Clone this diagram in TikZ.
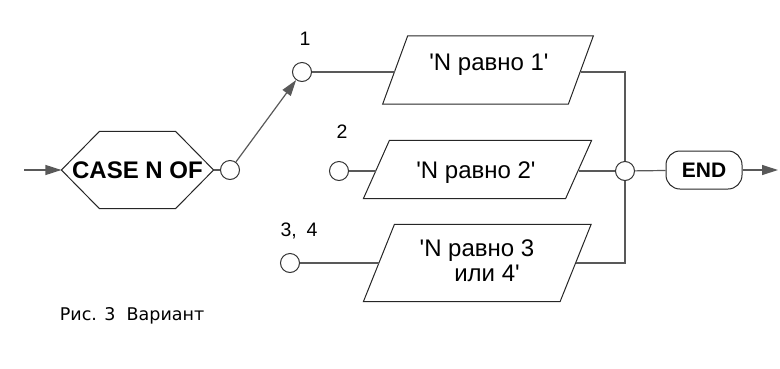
\documentclass[tikz,border=0pt]{standalone}
\usepackage{fontspec}
\setmainfont{Liberation Sans}[Ligatures=TeXOff]
\newfontfamily\captionfont{DejaVu Sans}
\usetikzlibrary{arrows.meta,positioning,calc}

\begin{document}
\begin{tikzpicture}[
  x=1pt, y=-1pt,
  line width=1.2pt,
  >={Triangle[length=16pt,width=10pt]},
  flow/.style={draw=black!65},
  joint/.style={circle, draw=black!80, fill=white, line width=1pt,
    minimum size=19pt, inner sep=0pt},
  shapebox/.style={rectangle, inner sep=0pt},
  outline/.style={draw=black!85, line width=1pt},
  lbl/.style={font=\fontsize{19.5}{22}\selectfont, anchor=base},
  txt/.style={font=\fontsize{24}{25}\selectfont, align=center, inner sep=0pt}
]
\useasboundingbox (0,0) rectangle (780,368);

% Entry: CASE hexagon (box + outline) and its outgoing joint
\node[shapebox, minimum width=151pt, minimum height=76pt,
  font=\fontsize{24}{26}\selectfont\bfseries] (case) at (137.5,170) {CASE N OF};
\draw[outline] (case.west) -- ([xshift=38pt]case.north west)
  -- ([xshift=-38pt]case.north east) -- (case.east)
  -- ([xshift=-38pt]case.south east) -- ([xshift=38pt]case.south west) -- cycle;
\coordinate (in) at (24,170);
\node[joint] (c0) at (230,170) {};

% Branch joints and their labels
\node[joint] (c1) at (302,72) {};
\node[joint] (c2) at (339,171) {};
\node[joint] (c3) at (290,263) {};
\node[lbl] (n1) at ([xshift=3pt,yshift=27pt]c1.center) {1};
\node[lbl] (n2) at ([xshift=3pt,yshift=33pt]c2.center) {2};
\node[lbl] (n34) at ([xshift=9pt,yshift=27pt]c3.center) {3,\enspace 4};

% Branch bodies (parallelograms: box + slanted outline)
\node[shapebox, minimum width=184.5pt, minimum height=67pt] (p1) at (488,70) {};
\node[shapebox, minimum width=201pt, minimum height=57pt] (p2) at (477.5,169.5) {};
\node[shapebox, minimum width=195.5pt, minimum height=76pt] (p3) at (477.25,263) {};
\foreach \p/\s in {p1/12.5,p2/13,p3/15.5}
  \draw[outline] ([xshift=\s pt]\p.north west) -- ([xshift=\s pt]\p.north east)
    -- ([xshift=-\s pt]\p.south east) -- ([xshift=-\s pt]\p.south west) -- cycle;
\node[txt, anchor=base] (t1) at (489,70) {'N равно 1'};
\node[txt, anchor=base] (t2) at (476,178) {'N равно 2'};
\node[txt] (t3) at (477,260.7) {'N равно 3\\\hspace*{20pt}или 4'};

% Exit: merge joint and END terminal
\node[joint] (join) at (625,171) {};
\node[
  draw=black!85, line width=1pt, rounded corners=14pt,
  minimum width=76pt, minimum height=38pt, inner sep=0pt,
  font=\fontsize{21}{24}\selectfont\bfseries
] (end) at (704,170) {END};
\coordinate (out) at (778,170);

\node[font=\captionfont\fontsize{17.5}{20}\selectfont, anchor=base west]
  (caption) at (56,320) {Рис. 3\ \ Вариант};

% Connectors
\draw[flow,->] (in) -- (case);
\draw[flow] (case) -- (c0);
\draw[flow,->] (c0) -- (c1);
\draw[flow] (c1) -- (c1 -| p1.west);
\draw[flow] (c2) -- (c2 -| p2.west);
\draw[flow] (c3) -- (c3 -| p3.west);
\draw[flow] (c1 -| p1.east) -| (join);
\draw[flow] (c2 -| p2.east) -- (join);
\draw[flow] (c3 -| p3.east) -| (join);
\draw[flow] (join) -- (end);
\draw[flow,->] (end) -- (out);
\end{tikzpicture}
\end{document}
